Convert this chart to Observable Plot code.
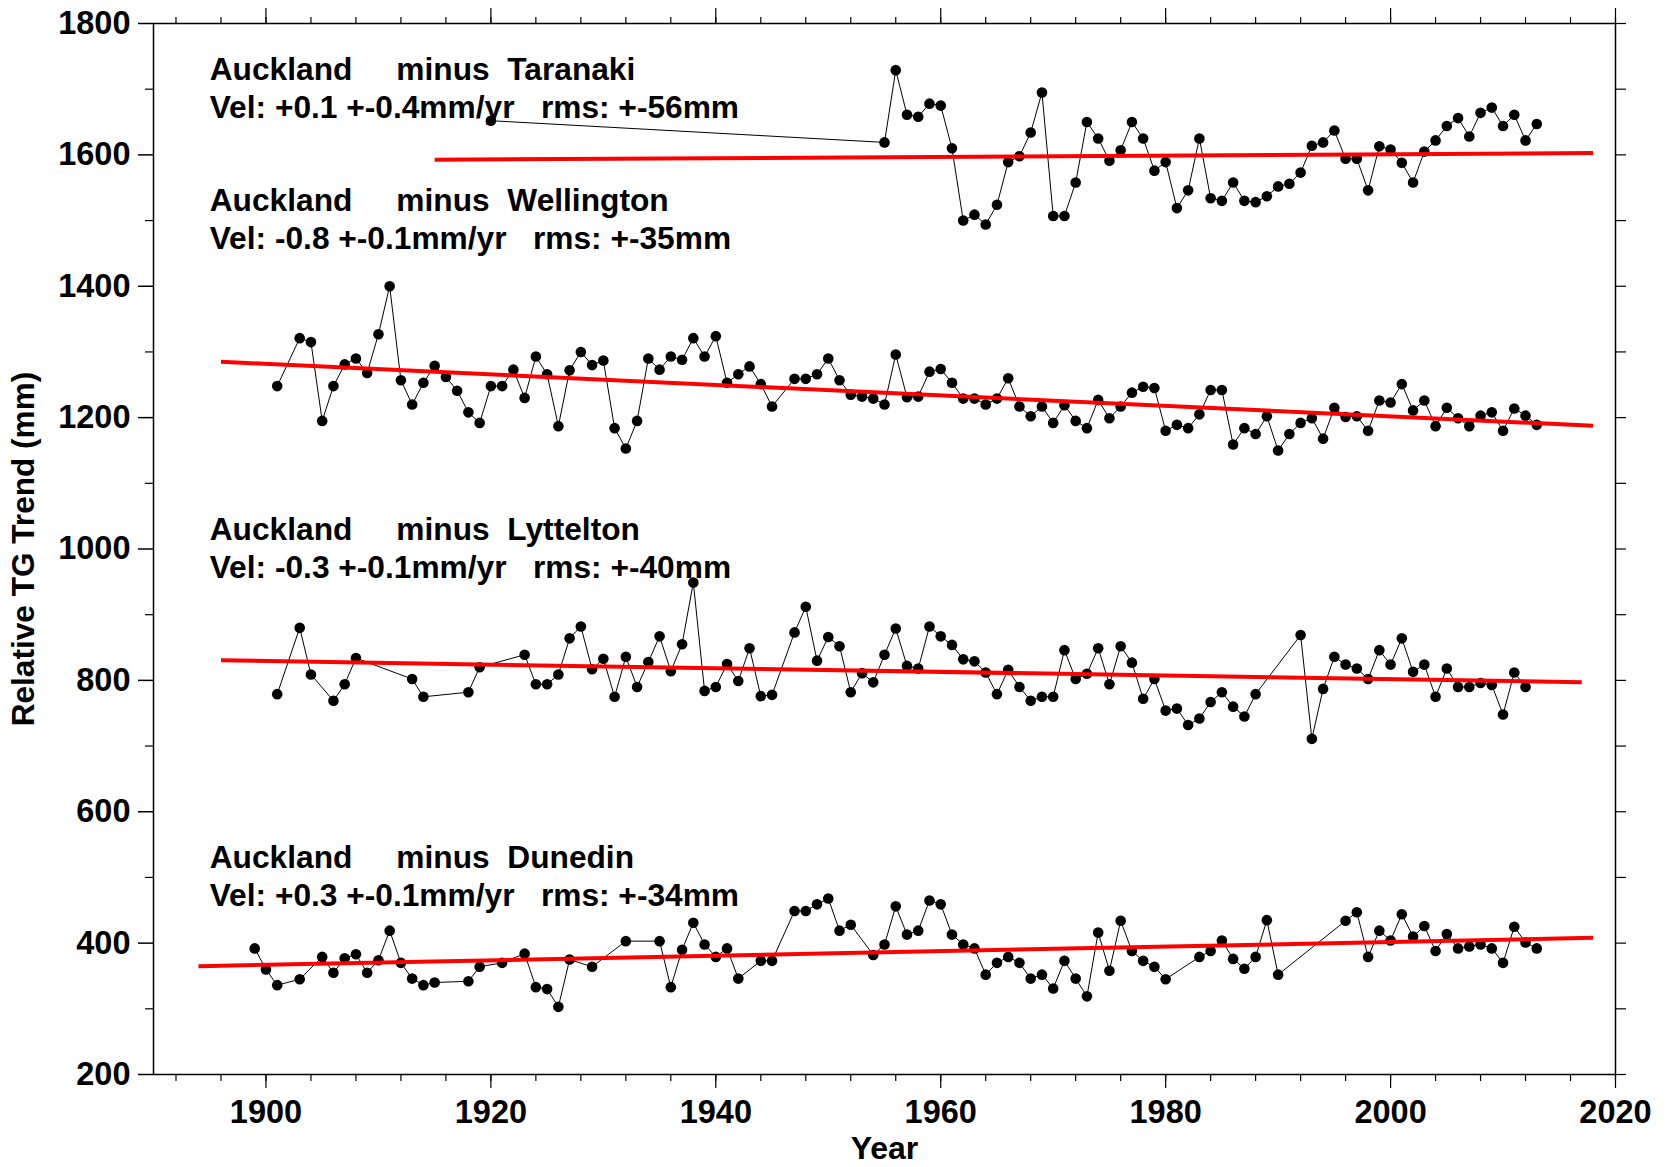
<!DOCTYPE html>
<html>
<head>
<meta charset="utf-8">
<script src="https://cdn.jsdelivr.net/npm/d3@7"></script>
<script src="https://cdn.jsdelivr.net/npm/@observablehq/plot@0.6"></script>
<style>
  html, body { margin: 0; padding: 0; background: #fff; }
  #chart svg { display: block; }
</style>
</head>
<body>
<div id="chart"></div>
<script>
// Relative tide-gauge trends: Auckland minus four other New Zealand gauges (mm).

const taranakiYears = [1920,
  1955,1956,1957,1958,1959,1960,1961,1962,1963,1964,1965,1966,1967,1968,1969,
  1970,1971,1972,1973,1974,1975,1976,1977,1978,1979,1980,1981,1982,1983,1984,
  1985,1986,1987,1988,1989,1990,1991,1992,1993,1994,1995,1996,1997,1998,1999,
  2000,2001,2002,2003,2004,2005,2006,2007,2008,2009,2010,2011,2012,2013];
const taranakiValues = [1652,
  1619,1729,1661,1658,1678,1675,1610,1500,1509,1494,1524,1589,1598,1634,1695,
  1507,1507,1558,1650,1625,1591,1607,1650,1625,1576,1589,1519,1546,1625,1534,
  1530,1558,1530,1528,1537,1552,1556,1573,1614,1619,1637,1594,1594,1546,1613,
  1608,1588,1558,1605,1622,1644,1656,1628,1664,1672,1644,1661,1622,1647];

const wellingtonYears = [1901,
  1903,1904,1905,1906,1907,1908,1909,1910,1911,1912,1913,1914,1915,1916,1917,
  1918,1919,1920,1921,1922,1923,1924,1925,1926,1927,1928,1929,1930,1931,1932,
  1933,1934,1935,1936,1937,1938,1939,1940,1941,1942,1943,1944,1945,
  1947,1948,1949,1950,1951,1952,1953,1954,1955,1956,1957,1958,1959,1960,1961,
  1962,1963,1964,1965,1966,1967,1968,1969,1970,1971,1972,1973,1974,1975,1976,
  1977,1978,1979,1980,1981,1982,1983,1984,1985,1986,1987,1988,1989,1990,1991,
  1992,1993,1994,1995,1996,1997,1998,1999,2000,2001,2002,2003,2004,2005,2006,
  2007,2008,2009,2010,2011,2012,2013];
const wellingtonValues = [1248,
  1321,1315,1195,1248,1281,1290,1268,1327,1400,1257,1220,1253,1279,1262,1241,
  1208,1192,1248,1248,1273,1230,1293,1266,1187,1272,1300,1280,1287,1184,1153,
  1195,1290,1273,1293,1288,1321,1293,1324,1253,1266,1278,1251,1217,
  1259,1259,1266,1290,1257,1235,1232,1229,1220,1296,1231,1232,1270,1274,1253,
  1229,1229,1220,1229,1260,1217,1202,1217,1192,1219,1195,1184,1227,1199,1217,
  1238,1247,1245,1180,1189,1184,1205,1242,1242,1159,1184,1175,1202,1150,1175,
  1192,1199,1168,1215,1201,1202,1180,1226,1223,1251,1211,1226,1187,1215,1199,
  1187,1203,1208,1180,1214,1203,1189];

const lytteltonYears = [1901,1903,1904,1906,1907,1908,1913,1914,1918,1919,
  1923,1924,1925,1926,1927,1928,1929,1930,1931,1932,1933,1934,1935,1936,1937,
  1938,1939,1940,1941,1942,1943,1944,1945,1947,1948,1949,1950,1951,1952,1953,
  1954,1955,1956,1957,1958,1959,1960,1961,1962,1963,1964,1965,1966,1967,1968,
  1969,1970,1971,1972,1973,1974,1975,1976,1977,1978,1979,1980,1981,1982,1983,
  1984,1985,1986,1987,1988,1992,1993,1994,1995,1996,1997,1998,1999,2000,2001,
  2002,2003,2004,2005,2006,2007,2008,2009,2010,2011,2012];
const lytteltonValues = [779,880,809,769,794,834,802,775,782,820,
  839,794,794,809,864,882,817,833,775,836,790,828,867,814,855,
  949,784,790,825,799,849,776,778,873,912,830,866,852,782,811,
  797,839,879,822,818,882,867,854,832,829,812,779,816,790,769,
  775,775,846,802,810,849,794,852,827,772,802,754,757,732,742,
  767,782,760,745,779,869,711,787,836,824,818,802,846,824,864,
  813,824,775,818,790,790,796,793,748,812,790];

const dunedinYears = [1899,1900,1901,1903,1905,1906,1907,1908,1909,1910,1911,
  1912,1913,1914,1915,1918,1919,1921,1923,1924,1925,1926,1927,1929,1932,1935,
  1936,1937,1938,1939,1940,1941,1942,1944,1945,1947,1948,1949,1950,1951,1952,
  1954,1955,1956,1957,1958,1959,1960,1961,1962,1963,1964,1965,1966,1967,1968,
  1969,1970,1971,1972,1973,1974,1975,1976,1977,1978,1979,1980,1983,1984,1985,
  1986,1987,1988,1989,1990,1996,1997,1998,1999,2000,2001,2002,2003,2004,2005,
  2006,2007,2008,2009,2010,2011,2012,2013];
const dunedinValues = [392,360,336,345,379,355,377,383,355,374,419,
  370,346,336,340,342,364,370,384,333,330,303,375,364,403,403,
  333,390,431,398,379,392,346,373,373,449,449,459,468,419,428,
  382,398,456,413,419,465,459,413,398,392,352,370,379,370,346,
  352,331,373,346,319,416,358,434,388,373,364,345,379,388,404,
  376,361,379,435,352,434,447,379,419,404,444,410,426,388,414,
  392,395,398,392,370,425,401,392];

// Fitted linear trends: start/end year and value of each red line
const stationNames     = ["Taranaki", "Wellington", "Lyttelton", "Dunedin"];
const trendStartYear   = [1915, 1896, 1896, 1894];
const trendStartValue  = [1592.5, 1285, 830.6, 364.8];
const trendEndYear     = [2018, 2018, 2017, 2018];
const trendEndValue    = [1602.8, 1187.5, 797.2, 408];

// Annotation text for each pair of gauges
const velocityText = ["+0.1 +-0.4", "-0.8 +-0.1", "-0.3 +-0.1", "+0.3 +-0.1"];
const rmsText      = ["+-56", "+-35", "+-40", "+-34"];
const labelYear    = [1895, 1895, 1895, 1895];
const labelValue   = [1730, 1530, 1029, 530];

// Axis ticks
const xLabelTicks = [1900, 1920, 1940, 1960, 1980, 2000, 2020];
const xMinorTicks = [1892,1896,1900,1904,1908,1912,1916,1920,1924,1928,1932,1936,
  1940,1944,1948,1952,1956,1960,1964,1968,1972,1976,1980,1984,1988,1992,1996,
  2000,2004,2008,2012,2016,2020];
const yLabelTicks = [200, 400, 600, 800, 1000, 1200, 1400, 1600, 1800];
const yMinorTicks = [300, 500, 700, 900, 1100, 1300, 1500, 1700];
const yAllTicks   = [200,300,400,500,600,700,800,900,1000,1100,1200,1300,1400,1500,1600,1700,1800];

const seriesYears  = [taranakiYears, wellingtonYears, lytteltonYears, dunedinYears];
const seriesValues = [taranakiValues, wellingtonValues, lytteltonValues, dunedinValues];

const points = [];
stationNames.forEach((name, k) => {
  seriesYears[k].forEach((yr, i) => points.push({station: name, year: yr, value: seriesValues[k][i]}));
});

const trends = stationNames.map((name, k) => ({
  station: name,
  x1: trendStartYear[k], y1: trendStartValue[k],
  x2: trendEndYear[k], y2: trendEndValue[k]
}));

const nb = "\u00a0";
const labels = stationNames.map((name, k) => ({
  year: labelYear[k],
  value: labelValue[k],
  line1: "Auckland" + nb.repeat(5) + "minus" + nb.repeat(2) + name,
  line2: "Vel:" + nb + velocityText[k] + "mm/yr" + nb.repeat(3) + "rms:" + nb + rmsText[k] + "mm"
}));

const font = "'Liberation Sans', Arial, Helvetica, sans-serif";
const blank = () => "";

const chart = Plot.plot({
  width: 1667,
  height: 1167,
  marginLeft: 153,
  marginRight: 52,
  marginTop: 23,
  marginBottom: 93,
  style: {fontFamily: font, fontSize: "32.5px", fontWeight: "bold", background: "#fff", color: "#000"},
  x: {domain: [1890, 2020], label: null},
  y: {domain: [200, 1800], label: null},
  marks: [
    // bottom axis: labels and outward ticks
    Plot.axisX({anchor: "bottom", ticks: xLabelTicks, tickSize: 0, tickPadding: 25, tickFormat: "d", label: null}),
    Plot.axisX({anchor: "bottom", ticks: xMinorTicks, tickSize: 7, tickFormat: blank, label: null, strokeWidth: 1.2}),
    Plot.axisX({anchor: "bottom", ticks: xLabelTicks, tickSize: 14, tickFormat: blank, label: null, strokeWidth: 1.2}),
    // top axis ticks
    Plot.axisX({anchor: "top", ticks: xMinorTicks, tickSize: 7, tickFormat: blank, label: null, strokeWidth: 1.2}),
    Plot.axisX({anchor: "top", ticks: xLabelTicks, tickSize: 16, tickFormat: blank, label: null, strokeWidth: 1.2}),
    // left axis
    Plot.axisY({anchor: "left", ticks: yLabelTicks, tickSize: 0, tickPadding: 23, tickFormat: "d", label: null}),
    Plot.axisY({anchor: "left", ticks: yLabelTicks, tickSize: 15, tickFormat: blank, label: null, strokeWidth: 1.5}),
    Plot.axisY({anchor: "left", ticks: yMinorTicks, tickSize: 8, tickFormat: blank, label: null, strokeWidth: 1.2}),
    // right axis ticks
    Plot.axisY({anchor: "right", ticks: yAllTicks, tickSize: 10, tickFormat: blank, label: null, strokeWidth: 1.2}),
    Plot.frame({stroke: "#000", strokeWidth: 1.5}),

    // axis titles
    Plot.text(["Year"], {frameAnchor: "bottom", dy: 74, lineAnchor: "middle", fontSize: 32, fontWeight: "bold"}),
    Plot.text(["Relative TG Trend (mm)"], {frameAnchor: "left", dx: -130, rotate: -90, lineAnchor: "middle", textAnchor: "middle", fontSize: 31.6, fontWeight: "bold"}),

    // station annotations
    Plot.text(labels, {x: "year", y: "value", text: "line1", textAnchor: "start", lineAnchor: "middle", fontSize: 31.7, fontWeight: "bold", fill: "#000"}),
    Plot.text(labels, {x: "year", y: "value", text: "line2", textAnchor: "start", lineAnchor: "middle", dy: 38, fontSize: 31.7, fontWeight: "bold", fill: "#000"}),

    // yearly series
    Plot.line(points, {x: "year", y: "value", z: "station", stroke: "#000", strokeWidth: 1}),
    Plot.dot(points, {x: "year", y: "value", r: 5.3, fill: "#000", stroke: "none"}),

    // linear trends
    Plot.link(trends, {x1: "x1", y1: "y1", x2: "x2", y2: "y2", stroke: "#ff0000", strokeWidth: 4})
  ]
});

document.getElementById("chart").appendChild(chart);
</script>
</body>
</html>
